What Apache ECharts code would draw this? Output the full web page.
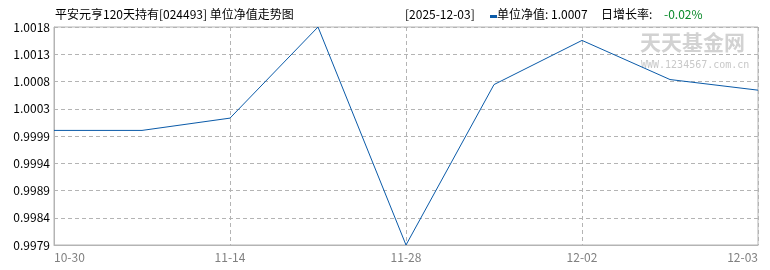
<!DOCTYPE html>
<html>
<head>
<meta charset="utf-8">
<script src="https://cdn.jsdelivr.net/npm/echarts@6/dist/echarts.min.js"></script>
<style>
html,body{margin:0;padding:0;background:#fff;}
#c{width:770px;height:270px;}
</style>
</head>
<body>
<div id="c"></div>
<script>
// ---- data ----
var categories = ['10-30', '', '11-14', '', '11-28', '', '12-02', '', '12-03'];
var navValues = [0.99995, 0.99995, 1.00017, 1.0018, 0.9979, 1.00077, 1.00156, 1.00086, 1.00067];
var yTickLabels = ['0.9979', '0.9984', '0.9989', '0.9994', '0.9999', '1.0003', '1.0008', '1.0013', '1.0018'];
var yMin = 0.9979, yMax = 1.0018;
var titleText = '平安元亨120天持有[024493] 单位净值走势图';
var infoDate = '[2025-12-03]';
var infoNav = '单位净值: 1.0007';
var infoRateLabel = '日增长率:';
var infoRate = '-0.02%';

var yInterval = (yMax - yMin) / (yTickLabels.length - 1);
var FONT = '"Noto Sans CJK SC", "Liberation Sans", sans-serif';

var chart = echarts.init(document.getElementById('c'), null, {renderer: 'canvas'});
chart.setOption({
  animation: false,
  backgroundColor: '#fff',
  grid: {left: 54, right: 12, top: 27, bottom: 25, show: true, borderColor: '#b4b4b4', borderWidth: 1, containLabel: false},
  xAxis: {
    type: 'category',
    data: categories,
    boundaryGap: false,
    axisLine: {lineStyle: {color: '#b4b4b4'}},
    axisTick: {show: false},
    axisLabel: {
      interval: function (i) { return i % 2 === 0; },
      color: '#808080', fontSize: 12, fontFamily: FONT, margin: 6,
      alignMinLabel: 'left', alignMaxLabel: 'right'
    },
    splitLine: {show: true, interval: function (i) { return i % 2 === 0; }, lineStyle: {color: '#b4b4b4', type: [4, 3]}}
  },
  yAxis: {
    type: 'value',
    min: yMin, max: yMax, interval: yInterval,
    axisLine: {show: true, lineStyle: {color: '#b4b4b4'}},
    axisTick: {show: false},
    axisLabel: {
      color: '#000', fontSize: 12, fontFamily: FONT, margin: 4,
      formatter: function (v) { var i = Math.round((v - yMin) / yInterval); return yTickLabels[i] || ''; }
    },
    splitLine: {show: true, lineStyle: {color: '#b4b4b4', type: [4, 3]}}
  },
  series: [{
    type: 'line',
    data: navValues,
    showSymbol: false,
    symbol: 'none',
    lineStyle: {color: '#0a5aa8', width: 1},
    z: 5
  }],
  graphic: [
    {type: 'text', left: 55, top: 8, style: {text: titleText, font: '12px ' + FONT, fill: '#000'}},
    {type: 'text', left: 405, top: 8, style: {text: infoDate, font: '12px ' + FONT, fill: '#000'}},
    {type: 'rect', left: 490, top: 15, shape: {width: 7, height: 3}, style: {fill: '#0a5aa8'}},
    {type: 'text', left: 497, top: 8, style: {text: infoNav, font: '12px ' + FONT, fill: '#000'}},
    {type: 'text', left: 601, top: 8, style: {text: infoRateLabel, font: '12px ' + FONT, fill: '#000'}},
    {type: 'text', left: 664, top: 8, style: {text: infoRate, font: '12px ' + FONT, fill: '#0a8a2a'}},
    {type: 'text', left: 640, top: 32, z: 1, style: {text: '天天基金网', font: 'bold 21px ' + FONT, fill: '#d2d2d2'}},
    {type: 'text', left: 641, top: 60, z: 1, style: {text: 'WWW.1234567.com.cn', font: '10px "DejaVu Sans Mono", monospace', fill: '#c8c8c8'}}
  ]
});
</script>
</body>
</html>
